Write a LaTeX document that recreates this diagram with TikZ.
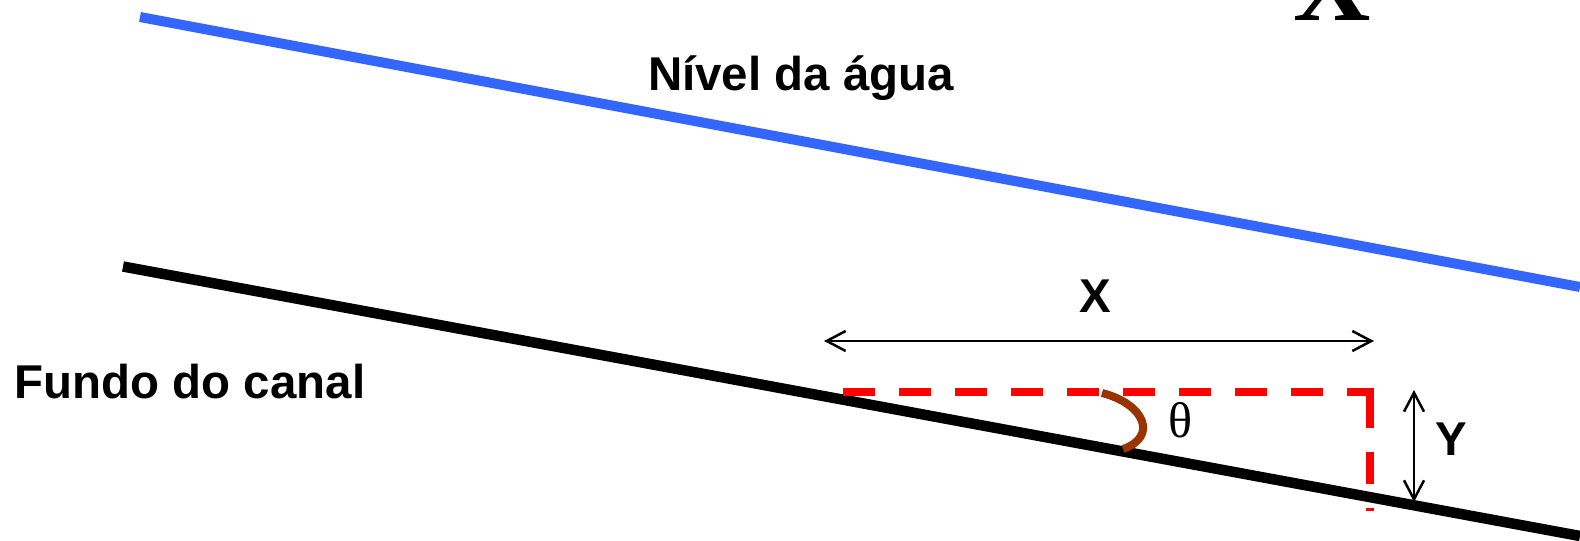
\documentclass[tikz,border=0pt]{standalone}
\usepackage{fontspec}
\setmainfont{Liberation Sans}
\newfontfamily\seriffont{Liberation Serif}
\usetikzlibrary{arrows.meta}
\definecolor{water}{RGB}{51,102,255}
\definecolor{anglebrown}{RGB}{153,51,0}
\begin{document}
\begin{tikzpicture}[x=0.02cm,y=-0.02cm,
  lbl/.style={font=\fontsize{27}{32}\selectfont\bfseries, inner sep=0pt, anchor=base},
  waterline/.style={draw=water, line width=0.2cm},
  bedline/.style={draw=black, line width=0.21cm},
  guide/.style={draw=red, line width=0.17cm, dash pattern=on 0.64cm off 0.48cm},
  dimarrow/.style={draw=black, line width=0.05cm, {Straight Barb[length=0.38cm,width=0.4cm]}-{Straight Barb[length=0.38cm,width=0.4cm]}},
  anglearc/.style={draw=anglebrown, line width=0.16cm}]
\useasboundingbox (0,0) rectangle (1580,541);
% water surface and channel bed
\coordinate (w1) at (140,17);
\coordinate (w2) at (1580,287);
\coordinate (b1) at (123,266.5);
\coordinate (b2) at (1580,536);
\draw[waterline] (w1) -- (w2);
\draw[bedline] (b1) -- (b2);
% red dashed guides
\coordinate (h1) at (843,392);
\coordinate (h2) at (1374,392);
\coordinate (v1) at (1370,396);
\coordinate (v2) at (1370,511);
\draw[guide] (h1) -- (h2);
\draw[guide] (v1) -- (v2);
% dimension arrows
\coordinate (xa) at (824,341);
\coordinate (xb) at (1374,341);
\draw[dimarrow] (xa) -- (xb);
\coordinate (ya) at (1414,390);
\coordinate (yb) at (1414,502);
\draw[dimarrow] (ya) -- (yb);
% angle arc
\coordinate (a1) at (1102,393);
\coordinate (a2) at (1123,449);
\draw[anglearc] (a1) .. controls (1145,404) and (1158,437) .. (a2);
% labels
\node[lbl] (nivel) at (801,91) {Nível da água};
\node[lbl] (fundo) at (190,398) {Fundo do canal};
\node[lbl] (xlbl) at (1095,312) {X};
\node[lbl] (ylbl) at (1451,455) {Y};
\node[font={\seriffont\fontsize{28.5}{32}\selectfont}, inner sep=0pt, anchor=base] (theta) at (1180,437) {θ};
\node[font={\seriffont\bfseries\fontsize{61}{70}\selectfont}, inner sep=0pt, anchor=base] (topx) at (1332,20) {X};
\end{tikzpicture}
\end{document}
